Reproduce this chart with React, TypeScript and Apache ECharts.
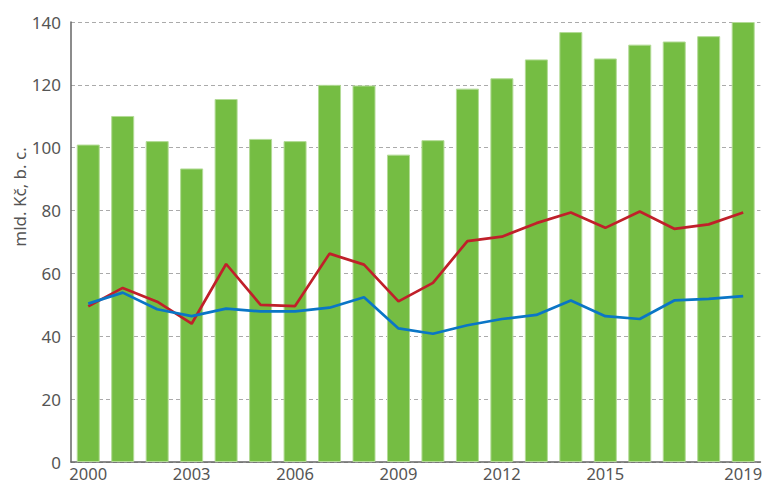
import React, { useEffect, useRef } from "react";
import * as echarts from "echarts";

const years = ["2000","2001","2002","2003","2004","2005","2006","2007","2008","2009","2010","2011","2012","2013","2014","2015","2016","2017","2018","2019"];
const barValues = [101, 110.1, 102.1, 93.4, 115.5, 102.8, 102.1, 120.0, 119.8, 97.8, 102.4, 118.8, 122.1, 128.1, 136.8, 128.4, 132.8, 133.8, 135.5, 140];
const redValues = [49.5, 55.4, 51.0, 44.0, 63.0, 50.0, 49.6, 66.3, 62.8, 51.1, 57.0, 70.3, 71.7, 76.0, 79.4, 74.5, 79.7, 74.2, 75.6, 79.4];
const blueValues = [50.4, 53.9, 48.6, 46.4, 48.8, 47.9, 47.9, 49.1, 52.4, 42.5, 40.8, 43.5, 45.5, 46.8, 51.4, 46.4, 45.5, 51.4, 51.9, 52.8];
const shownYearLabels = [0, 3, 6, 9, 12, 15, 19];
const yAxisName = "mld. Kč, b. c.";

const FONT = "Noto Sans";
const LABEL_COLOR = "#555555";

export default function App() {
  const ref = useRef<HTMLDivElement>(null);
  useEffect(() => {
    if (!ref.current) return;
    const chart = echarts.init(ref.current, undefined, { renderer: "svg" });
    chart.setOption({
      animation: false,
      grid: { left: 71, right: 2, top: 22, bottom: 22, containLabel: false },
      xAxis: {
        type: "category",
        data: years,
        boundaryGap: true,
        axisLine: { show: true, lineStyle: { color: "#666666", width: 1.5 } },
        axisTick: { show: false },
        axisLabel: {
          interval: (i: number) => shownYearLabels.includes(i),
          color: LABEL_COLOR,
          fontFamily: FONT,
          fontSize: 16.5,
          lineHeight: 17,
          margin: 3,
        },
        splitLine: { show: false },
      },
      yAxis: {
        type: "value",
        min: 0,
        max: 140,
        interval: 20,
        axisLine: { show: true, lineStyle: { color: "#666666", width: 1.5 } },
        axisTick: { show: false },
        axisLabel: {
          color: LABEL_COLOR,
          fontFamily: FONT,
          fontSize: 17,
          margin: 10,
        },
        splitLine: {
          show: true,
          lineStyle: { color: "#aaaaaa", type: [4, 3], width: 1 },
        },
      },
      graphic: [
        {
          type: "text",
          x: 19,
          y: 197,
          rotation: Math.PI / 2,
          style: {
            text: yAxisName,
            fill: LABEL_COLOR,
            font: `17px "${FONT}"`,
            align: "center",
            verticalAlign: "middle",
          },
        },
      ],
      series: [
        {
          type: "bar",
          data: barValues,
          barWidth: 23,
          itemStyle: { color: "#75bd43", borderColor: "#b3db96", borderWidth: 1 },
          z: 1,
        },
        {
          type: "line",
          data: redValues,
          showSymbol: false,
          symbol: "none",
          lineStyle: { color: "#c0202a", width: 2.7 },
          z: 3,
        },
        {
          type: "line",
          data: blueValues,
          showSymbol: false,
          symbol: "none",
          lineStyle: { color: "#0a76c6", width: 2.7 },
          z: 4,
        },
      ],
    });
    return () => chart.dispose();
  }, []);
  return (
    <div
      ref={ref}
      style={{ position: "absolute", left: 0, top: 0, width: 765, height: 484 }}
    />
  );
}
